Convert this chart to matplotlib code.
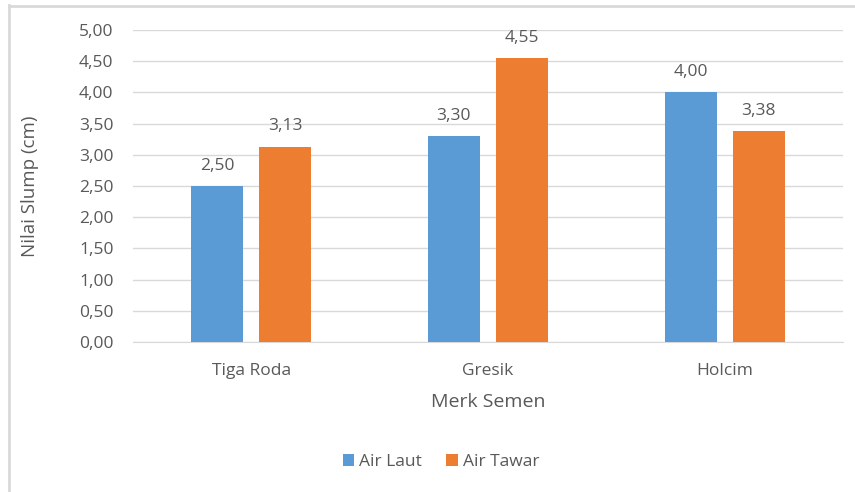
import numpy as np
import matplotlib
matplotlib.use("Agg")
from matplotlib import pyplot as plt
from matplotlib.lines import Line2D

categories = ["Tiga Roda", "Gresik", "Holcim"]
air_laut = [2.50, 3.30, 4.00]
air_tawar = [3.13, 4.55, 3.38]
series_names = ["Air Laut", "Air Tawar"]
yticks = [0, 0.5, 1, 1.5, 2, 2.5, 3, 3.5, 4, 4.5, 5]

blue = "#5b9bd5"
orange = "#ed7d31"
txt = "#595959"

plt.rcParams['font.family'] = ['Open Sans', 'DejaVu Sans']

def comma(v):
    return ("%.2f" % v).replace(".", ",")

fig = plt.figure(figsize=(8.55, 4.92), dpi=100)
ax = fig.add_axes([133/855, 1-342/492, 710/855, 312/492])

x = np.arange(len(categories))
w = 0.22
off = 0.144
b1 = ax.bar(x - off, air_laut, w, color=blue, label=series_names[0], zorder=3)
b2 = ax.bar(x + off, air_tawar, w, color=orange, label=series_names[1], zorder=3)

for bars, vals in [(b1, air_laut), (b2, air_tawar)]:
    for r, v in zip(bars, vals):
        ax.text(r.get_x() + r.get_width()/2, v + 0.2, comma(v), ha='center', va='bottom',
                fontsize=12.5, color=txt)

ax.set_xlim(-0.5, 2.5)
ax.set_ylim(0, 5)
ax.set_yticks(yticks)
ax.set_yticklabels([comma(v) for v in yticks])
ax.set_xticks(x)
ax.set_xticklabels(categories)
ax.tick_params(axis='both', length=0, labelsize=12.5, colors=txt)
ax.tick_params(axis='y', pad=14)
ax.tick_params(axis='x', pad=15)
ax.yaxis.grid(True, color="#d9d9d9", linewidth=1, zorder=0)
for s in ['top', 'right', 'left']:
    ax.spines[s].set_visible(False)
ax.spines['bottom'].set_color("#d9d9d9")
ax.set_xlabel("Merk Semen", fontsize=14, color=txt, labelpad=10)
ax.set_ylabel("Nilai Slump (cm)", fontsize=13.5, color=txt)
ax.yaxis.set_label_coords(-0.133, 0.5)

leg = fig.legend(handles=[b1, b2], loc='center', bbox_to_anchor=(441/855, 1-462/492),
                 ncol=2, frameon=False, fontsize=12.5, handlelength=0.65, handleheight=0.65,
                 handletextpad=0.3, columnspacing=1.4)
for t in leg.get_texts():
    t.set_color(txt)

# chart frame (left and top edges)
fig.add_artist(Line2D([9/855, 9/855], [0, 1-5/492], transform=fig.transFigure, color="#d9d9d9", linewidth=2))
fig.add_artist(Line2D([9/855, 1], [1-6/492, 1-6/492], transform=fig.transFigure, color="#d9d9d9", linewidth=2))

plt.savefig("out.png", dpi=100)
